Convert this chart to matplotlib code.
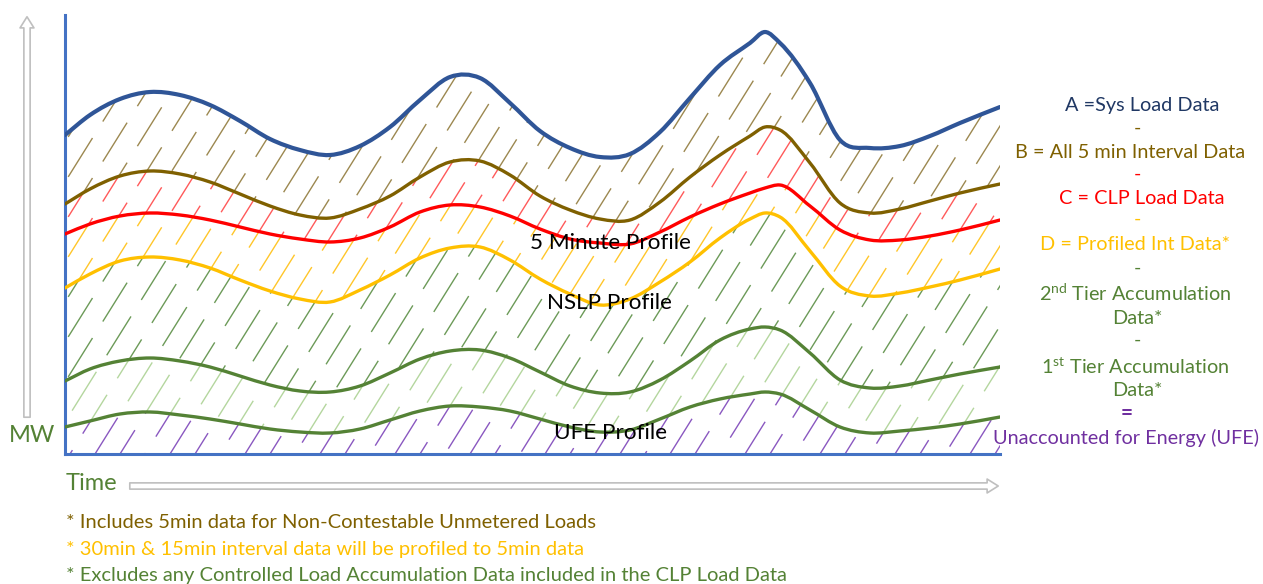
import numpy as np
import matplotlib.pyplot as plt
from matplotlib.collections import LineCollection
from matplotlib.patches import FancyArrowPatch, PathPatch
from matplotlib.path import Path

plt.rcParams['font.family'] = ['Lato', 'DejaVu Sans']
plt.rcParams['mathtext.fontset'] = 'custom'
plt.rcParams['mathtext.rm'] = 'Lato'

# time axis (arbitrary units, left edge = 0)
time = [0, 25, 55, 85, 115, 145, 175, 205, 235, 265, 295, 325, 355, 385, 415, 445, 475,
        505, 535, 565, 595, 625, 655, 685, 700, 715, 745, 775, 805, 835, 865, 895, 935]

# MW values
sys_load = [319, 339, 355, 362, 359, 349, 333, 315, 304, 299, 308, 327, 354, 377, 376, 351, 323,
            306, 297, 300, 322, 356, 389, 411, 422, 411, 371, 314, 306, 308, 318, 331, 347]
interval_5min = [250, 265, 278, 283, 280, 272, 260, 248, 239, 236, 245, 258, 277, 292, 293, 279, 258,
                 244, 235, 234, 252, 277, 299, 318, 327, 324, 291, 251, 241, 245, 253, 261, 270]
clp_load = [220, 230, 238, 241, 239, 234, 227, 220, 215, 212, 216, 227, 242, 249, 247, 238, 225,
            215, 211, 210, 222, 237, 250, 261, 266, 269, 248, 224, 214, 214, 218, 224, 234]
profiled_int = [166, 180, 193, 197, 194, 186, 174, 163, 155, 152, 164, 179, 196, 206, 207, 194, 175,
                160, 149, 155, 172, 192, 216, 235, 241, 237, 203, 168, 158, 161, 167, 174, 185]
tier2_accum = [73, 85, 93, 96, 93, 87, 78, 69, 63, 62, 68, 81, 95, 103, 104, 96, 82,
               68, 61, 62, 74, 93, 114, 125, 127, 124, 101, 74, 66, 68, 74, 80, 87]
tier1_accum = [27, 33, 40, 42, 39, 35, 30, 25, 22, 21, 25, 34, 43, 48, 47, 43, 35,
               27, 22, 24, 35, 47, 55, 60, 62, 60, 44, 27, 21, 23, 26, 30, 37]
baseline = [0] * len(time)

W, H = 1263, 584
fig = plt.figure(figsize=(W / 100, H / 100), dpi=100)
left, right, top, bottom = 65, 1000, 15, 454
ax = fig.add_axes([left / W, (H - bottom) / H, (right - left) / W, (bottom - top) / H])
ax.set_xlim(0, right - left)
ax.set_ylim(0, bottom - top)
ax.set_xticks([])
ax.set_yticks([])
for s in ['top', 'right']:
    ax.spines[s].set_visible(False)
for s in ['left', 'bottom']:
    ax.spines[s].set_color('#4472C4')
    ax.spines[s].set_linewidth(2.2)


def smooth_verts(xs, ys):
    # smoothed line through the points (cubic hermite drawn as bezier segments)
    x = np.asarray(xs, float)
    y = np.asarray(ys, float)
    n = len(x)
    m = np.gradient(y, x)
    verts = [(x[0], y[0])]
    for i in range(n - 1):
        h = (x[i + 1] - x[i]) / 3
        verts += [(x[i] + h, y[i] + m[i] * h), (x[i + 1] - h, y[i + 1] - m[i + 1] * h),
                  (x[i + 1], y[i + 1])]
    return verts


def curve_path(ys):
    v = smooth_verts(time, ys)
    return Path(v, [Path.MOVETO] + [Path.CURVE4] * (len(v) - 1))


def band_path(upper, lower):
    up = smooth_verts(time, upper)
    lo = smooth_verts(time[::-1], lower[::-1])
    codes = [Path.MOVETO] + [Path.CURVE4] * (len(up) - 1) + [Path.LINETO] + \
            [Path.CURVE4] * (len(lo) - 1) + [Path.CLOSEPOLY]
    return Path(up + lo + [up[0]], codes)


def dashed_fill(upper, lower, color):
    # dashed upward-diagonal pattern, clipped to the band between two curves
    path = band_path(upper, lower)
    slope = 1.6
    segs = []
    for i, c in enumerate(np.arange(-320, right - left + 10, 25)):
        y0 = -((i * 23) % 66)
        segs.append([(c + y0 / slope, y0), (c + 520 / slope, 520)])
    lc = LineCollection(segs, colors=color, linewidths=1.0, linestyles=[(0, (33, 14))])
    ax.add_collection(lc)
    lc.set_clip_path(path, ax.transData)


def draw_curve(ys, color, lw):
    ax.add_patch(PathPatch(curve_path(ys), fill=False, edgecolor=color, lw=lw,
                           capstyle='round', zorder=5))


dashed_fill(sys_load, interval_5min, '#9C8850')
dashed_fill(interval_5min, clp_load, '#FF5A5A')
dashed_fill(clp_load, profiled_int, '#FFC62A')
dashed_fill(profiled_int, tier2_accum, '#6C9A58')
dashed_fill(tier2_accum, tier1_accum, '#B4D69E')
dashed_fill(tier1_accum, baseline, '#8A58C0')

draw_curve(sys_load, '#2F5597', 3.0)
draw_curve(interval_5min, '#7F6000', 2.4)
draw_curve(clp_load, '#FF0000', 2.4)
draw_curve(profiled_int, '#FFC000', 2.4)
draw_curve(tier2_accum, '#548235', 2.4)
draw_curve(tier1_accum, '#548235', 2.4)

# overlay in pixel coordinates for texts and arrows
ov = fig.add_axes([0, 0, 1, 1], zorder=10)
ov.set_xlim(0, W)
ov.set_ylim(H, 0)
ov.axis('off')

ov.text(610, 243, '5 Minute Profile', fontsize=16.2, ha='center', va='center', color='black')
ov.text(609, 303, 'NSLP Profile', fontsize=16.2, ha='center', va='center', color='black')
ov.text(610, 433, 'UFE Profile', fontsize=16.2, ha='center', va='center', color='black')

labels = [
    (1142, 105, 'A =Sys Load Data', '#203864'),
    (1137, 128, '-', '#7F6000'),
    (1130, 153, 'B = All 5 min Interval Data', '#7F6000'),
    (1137, 174, '-', '#FF0000'),
    (1142, 199, 'C = CLP Load Data', '#FF0000'),
    (1137, 219, '-', '#FFC000'),
    (1135, 244, 'D = Profiled Int Data*', '#FFC000'),
    (1137, 268, '-', '#548235'),
    (1135, 293, '2$^{\\mathrm{nd}}$ Tier Accumulation', '#548235'),
    (1137, 318, 'Data*', '#548235'),
    (1137, 340, '-', '#548235'),
    (1135, 367, '1$^{\\mathrm{st}}$ Tier Accumulation', '#548235'),
    (1137, 391, 'Data*', '#548235'),
    (1126, 438, 'Unaccounted for Energy (UFE)', '#7030A0'),
]
for x, y, txt, col in labels:
    ov.text(x, y, txt, fontsize=14.3, ha='center', va='center', color=col)
ov.text(1127, 413, '=', fontsize=15, ha='center', va='center', color='#7030A0', fontweight='bold')

ov.text(9, 436, 'MW', fontsize=17, ha='left', va='center', color='#548235')
ov.text(66, 484, 'Time', fontsize=17, ha='left', va='center', color='#548235')

notes = [
    (523, '* Includes 5min data for Non-Contestable Unmetered Loads', '#7F6000'),
    (549, '* 30min & 15min interval data will be profiled to 5min data', '#FFC000'),
    (575, '* Excludes any Controlled Load Accumulation Data included in the CLP Load Data', '#548235'),
]
for y, txt, col in notes:
    ov.text(66, y, txt, fontsize=14.5, ha='left', va='center', color=col)

arrow_style = 'simple,head_length=8,head_width=10,tail_width=4.5'
ov.add_patch(FancyArrowPatch((27, 420), (27, 14), arrowstyle=arrow_style, mutation_scale=1,
                             facecolor='white', edgecolor='#BFBFBF', lw=1.2))
ov.add_patch(FancyArrowPatch((127, 486), (1001, 486), arrowstyle=arrow_style, mutation_scale=1,
                             facecolor='white', edgecolor='#BFBFBF', lw=1.2))

fig.savefig('out.png', dpi=100)
